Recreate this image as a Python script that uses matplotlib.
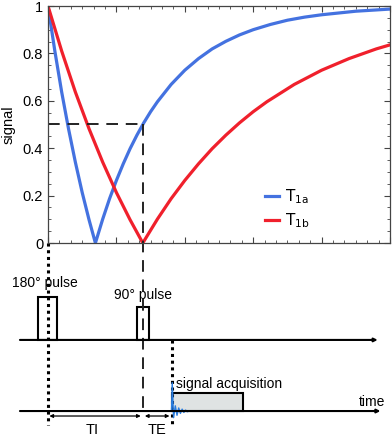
# Inversion recovery: signal of two T1 species + pulse sequence diagram
import matplotlib.pyplot as plt
from matplotlib.ticker import MultipleLocator, NullFormatter
from matplotlib.patches import Rectangle

plt.rcParams['font.family'] = ['Liberation Sans', 'DejaVu Sans']

# signal curves (time in arbitrary units, 0..5)
t_a = [0, 0.1, 0.2, 0.3, 0.4, 0.5, 0.6, 0.693, 0.8, 0.9, 1.0, 1.1, 1.2, 1.3, 1.4, 1.5, 1.6,
       1.8, 2.0, 2.2, 2.4, 2.6, 2.8, 3.0, 3.25, 3.5, 3.75, 4.0, 4.5, 5.0]
sig_a = [1, 0.810, 0.637, 0.482, 0.341, 0.213, 0.098, 0, 0.101, 0.187, 0.264, 0.334, 0.398,
         0.455, 0.507, 0.554, 0.596, 0.669, 0.729, 0.778, 0.819, 0.851, 0.878, 0.900, 0.922,
         0.940, 0.953, 0.963, 0.978, 0.987]
t_b = [0, 0.2, 0.4, 0.6, 0.8, 1.0, 1.2, 1.386, 1.6, 1.8, 2.0, 2.2, 2.4, 2.6, 2.8, 3.0, 3.2,
       3.6, 4.0, 4.4, 4.8, 5.0]
sig_b = [1, 0.810, 0.637, 0.482, 0.341, 0.213, 0.098, 0, 0.101, 0.187, 0.264, 0.334, 0.398,
         0.455, 0.507, 0.554, 0.596, 0.669, 0.729, 0.778, 0.819, 0.836]
labels = [r'$\mathrm{T_{1a}}$', r'$\mathrm{T_{1b}}$']
colores = ['#4472e0', '#f0202c']

# sequence timing
TI = 1.386
TE = 0.42
acq_len = 1.04
sig_nivel = 0.5

# FID squiggle (offset from acquisition start, amplitude)
fid_dt = [0, 0.01, 0.03, 0.055, 0.08, 0.105, 0.13, 0.155, 0.18, 0.205, 0.23, 0.26, acq_len]
fid_amp = [0, 0.12, -0.028, 0.022, -0.018, 0.013, -0.01, 0.008, -0.006, 0.004, -0.003, 0.0, 0.0]

fig = plt.figure(figsize=(3.92, 4.36), dpi=100)
ax = fig.add_axes([48/392, (436-243)/436, 342/392, 237/436])

ax.plot(t_a, sig_a, color=colores[0], lw=2.3, label=labels[0])
ax.plot(t_b, sig_b, color=colores[1], lw=2.3, label=labels[1])

ax.set_xlim(0, 5)
ax.set_ylim(0, 1)
ax.xaxis.set_major_locator(MultipleLocator(1))
ax.xaxis.set_minor_locator(MultipleLocator(1/6))
ax.xaxis.set_major_formatter(NullFormatter())
ax.yaxis.set_minor_locator(MultipleLocator(0.05))
ax.set_yticks([0, 0.2, 0.4, 0.6, 0.8, 1.0], ['0', '0.2', '0.4', '0.6', '0.8', '1'])
ax.tick_params(which='both', direction='in', top=True, right=True, labelsize=10.5, color='#444444')
ax.tick_params(which='major', length=4, width=0.8)
ax.tick_params(which='minor', length=2.5, width=0.6)
for s in ax.spines.values():
    s.set_color('#444444')
    s.set_linewidth(0.9)
ax.set_ylabel('signal', fontsize=10.5, labelpad=5)

leg = ax.legend(loc='lower left', bbox_to_anchor=(0.595, -0.005), frameon=False, handlelength=0.9,
                handletextpad=0.4, labelspacing=0.35, fontsize=11)

# dashed guide at TI
ax.plot([0, TI], [sig_nivel, sig_nivel], color='#222222', lw=1.4, dashes=(6, 4))
ax.plot([TI, TI], [sig_nivel, -0.72], color='#222222', lw=1.4, dashes=(6, 4), clip_on=False)
# dotted line at 180 pulse and acquisition start
ax.plot([0, 0], [0, -0.77], color='black', lw=2.2, ls=(0, (1, 1.2)), clip_on=False)
ax.plot([TI+TE, TI+TE], [-0.41, -0.77], color='black', lw=2.2, ls=(0, (1, 1.2)), clip_on=False)

# RF line and readout line
y_rf = -0.409
y_rd = -0.709
ax.annotate('', xy=(4.82, y_rf), xytext=(-0.41, y_rf), annotation_clip=False,
            arrowprops=dict(arrowstyle='-|>', mutation_scale=5, lw=1.5, color='black', shrinkA=0, shrinkB=0))
ax.annotate('', xy=(4.86, y_rd), xytext=(-0.41, y_rd), annotation_clip=False,
            arrowprops=dict(arrowstyle='-|>', mutation_scale=5, lw=1.5, color='black', shrinkA=0, shrinkB=0))

# pulses
ax.add_patch(Rectangle((-0.146, y_rf), 0.278, 0.181, fill=False, ec='black', lw=1.5, clip_on=False))
ax.add_patch(Rectangle((TI-0.09, y_rf), 0.18, 0.139, fill=False, ec='black', lw=1.5, clip_on=False))
ax.text(-0.04, -0.17, '180° pulse', ha='center', va='center', fontsize=10)
ax.text(TI, -0.22, '90° pulse', ha='center', va='center', fontsize=10)

# acquisition window
ax.add_patch(Rectangle((TI+TE, y_rd), acq_len, 0.076, fc='#dfe3e3', ec='black', lw=1.5, clip_on=False))
ax.plot([TI+TE+d for d in fid_dt], [y_rd+a for a in fid_amp], color='#2a7de0', lw=1.0, clip_on=False)
ax.text(TI+TE+0.06, -0.595, 'signal acquisition', ha='left', va='center', fontsize=10)
ax.text(4.93, -0.671, 'time', ha='right', va='center', fontsize=10)

# TI / TE arrows
y_ar = -0.73
ax.annotate('', xy=(TI-0.03, y_ar), xytext=(0.02, y_ar), annotation_clip=False,
            arrowprops=dict(arrowstyle='<|-|>', mutation_scale=5, lw=0.9, color='black', shrinkA=0, shrinkB=0))
ax.annotate('', xy=(TI+TE-0.03, y_ar), xytext=(TI+0.03, y_ar), annotation_clip=False,
            arrowprops=dict(arrowstyle='<|-|>', mutation_scale=5, lw=0.9, color='black', shrinkA=0, shrinkB=0))
ax.text(TI/2 - 0.05, -0.79, 'TI', ha='center', va='center', fontsize=10.5)
ax.text(TI+TE/2, -0.79, 'TE', ha='center', va='center', fontsize=10.5)

fig.savefig('out.png', dpi=100)
